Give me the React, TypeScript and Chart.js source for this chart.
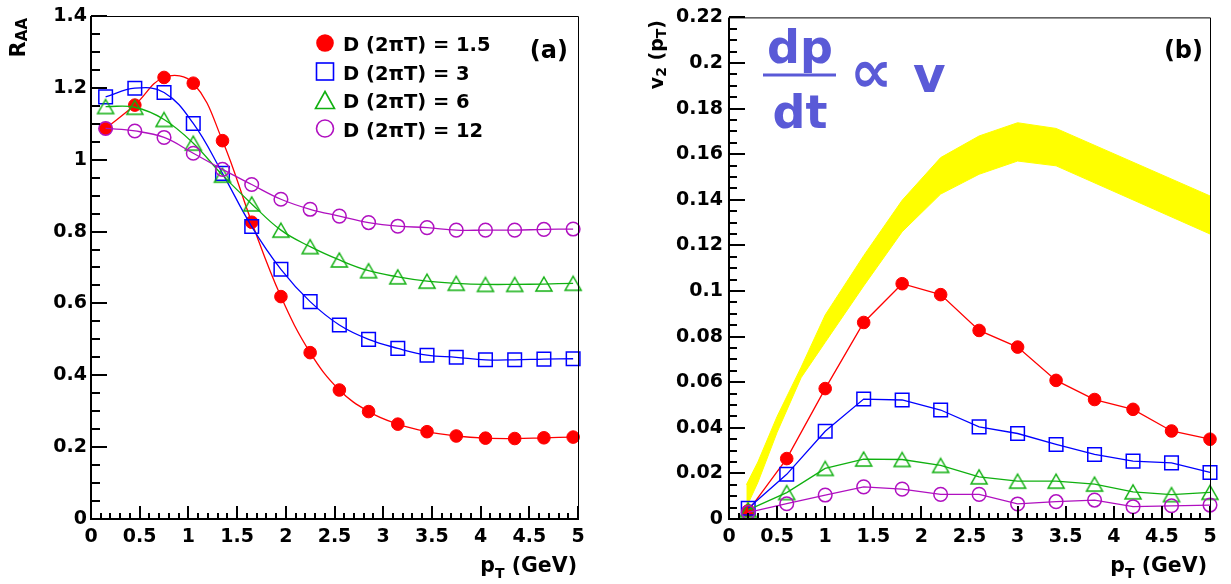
import React, { useEffect, useRef } from 'react';
import { Chart, registerables } from 'chart.js';

Chart.register(...registerables);

const FONT = '"DejaVu Sans", "Liberation Sans", sans-serif';

// ---------- Panel (a): R_AA ----------
const ptA = [0.15, 0.45, 0.75, 1.05, 1.35, 1.65, 1.95, 2.25, 2.55, 2.85, 3.15, 3.45, 3.75, 4.05, 4.35, 4.65, 4.95];
const raaD15 = [1.087, 1.152, 1.229, 1.213, 1.053, 0.826, 0.619, 0.463, 0.359, 0.299, 0.264, 0.243, 0.231, 0.225, 0.224, 0.226, 0.228];
const raaD3 = [1.175, 1.199, 1.187, 1.101, 0.962, 0.814, 0.695, 0.605, 0.54, 0.5, 0.475, 0.456, 0.45, 0.443, 0.443, 0.445, 0.446];
const raaD6 = [1.148, 1.146, 1.112, 1.046, 0.957, 0.877, 0.804, 0.758, 0.721, 0.691, 0.674, 0.662, 0.656, 0.653, 0.653, 0.654, 0.656];
const raaD12 = [1.087, 1.08, 1.062, 1.018, 0.973, 0.931, 0.89, 0.862, 0.843, 0.825, 0.815, 0.811, 0.804, 0.804, 0.804, 0.806, 0.807];

// ---------- Panel (b): v2 ----------
const ptB = [0.2, 0.6, 1.0, 1.4, 1.8, 2.2, 2.6, 3.0, 3.4, 3.8, 4.2, 4.6, 5.0];
const v2D15 = [0.0036, 0.0265, 0.0572, 0.0862, 0.1032, 0.0984, 0.0827, 0.0754, 0.0608, 0.0524, 0.0481, 0.0386, 0.035];
const v2D3 = [0.0047, 0.0196, 0.0385, 0.0526, 0.0522, 0.0478, 0.0404, 0.0375, 0.0327, 0.0283, 0.0254, 0.0246, 0.0204];
const v2D6 = [0.004, 0.0116, 0.0222, 0.0263, 0.0261, 0.0235, 0.0185, 0.0166, 0.0166, 0.0153, 0.0119, 0.0107, 0.0117];
const v2D12 = [0.0029, 0.0067, 0.0105, 0.0141, 0.0131, 0.0108, 0.0108, 0.0066, 0.0076, 0.0083, 0.0054, 0.0058, 0.0061];

// yellow band (dp/dt ∝ v)
const bandX = [0.18, 0.3, 0.5, 0.75, 1.0, 1.4, 1.8, 2.2, 2.6, 3.0, 3.4, 5.0];
const bandUpper = [0.015, 0.025, 0.045, 0.0666, 0.0895, 0.1155, 0.1398, 0.1585, 0.168, 0.1738, 0.1713, 0.1417];
const bandLower = [0.005, 0.016, 0.038, 0.062, 0.0775, 0.1022, 0.126, 0.1425, 0.1512, 0.157, 0.1549, 0.125];

const legendLabels = ['D (2\u03C0T) = 1.5', 'D (2\u03C0T) = 3', 'D (2\u03C0T) = 6', 'D (2\u03C0T) = 12'];

const RED = '#ff0000';
const BLUE = '#0000ff';
const GREEN = '#10b010';
const MAGENTA = '#b010c0';
const YELLOW = '#ffff00';
const FORMULA = 'rgb(90,90,215)';

const pts = (xs: number[], ys: number[]) => xs.map((x, i) => ({ x, y: ys[i] }));

function makeTriangle(w: number, h: number, color: string, lw: number) {
  const c = document.createElement('canvas');
  c.width = Math.ceil(w + lw * 2) + 1;
  c.height = Math.ceil(h + lw * 2) + 1;
  const ctx = c.getContext('2d')!;
  const cx = c.width / 2;
  const cy = c.height / 2;
  ctx.strokeStyle = color;
  ctx.lineWidth = lw;
  ctx.lineJoin = 'miter';
  ctx.beginPath();
  ctx.moveTo(cx, cy - h / 2);
  ctx.lineTo(cx + w / 2, cy + h / 2);
  ctx.lineTo(cx - w / 2, cy + h / 2);
  ctx.closePath();
  ctx.stroke();
  return c;
}

type Seg = { text: string; size: number; dy?: number };

function drawRich(
  ctx: CanvasRenderingContext2D,
  segs: Seg[],
  x: number,
  y: number,
  align: 'left' | 'right' | 'center',
  rot = 0,
  color = '#000'
) {
  ctx.save();
  ctx.translate(x, y);
  if (rot) ctx.rotate(rot);
  ctx.fillStyle = color;
  ctx.textBaseline = 'alphabetic';
  ctx.textAlign = 'left';
  const widths = segs.map((s) => {
    ctx.font = `bold ${s.size}px ${FONT}`;
    return ctx.measureText(s.text).width;
  });
  const total = widths.reduce((a, b) => a + b, 0);
  let cx = align === 'right' ? -total : align === 'center' ? -total / 2 : 0;
  segs.forEach((s, i) => {
    ctx.font = `bold ${s.size}px ${FONT}`;
    ctx.fillText(s.text, cx, s.dy || 0);
    cx += widths[i];
  });
  ctx.restore();
}

type AxisDeco = {
  xMajor: number;
  xMinor: number;
  yMajor: number;
  yMinor: number;
  xMajorLen: number;
  xMinorLen: number;
  yMajorLen: number;
  yMinorLen: number;
};

function makeDecoPlugin(deco: AxisDeco, extra: (ctx: CanvasRenderingContext2D, chart: any) => void) {
  return {
    id: 'deco',
    afterDraw(chart: any) {
      const ctx: CanvasRenderingContext2D = chart.ctx;
      const a = chart.chartArea;
      const xs = chart.scales.x;
      const ys = chart.scales.y;
      ctx.save();
      ctx.strokeStyle = '#000';
      // thin top/right frame
      ctx.lineWidth = 1;
      ctx.beginPath();
      ctx.moveTo(a.left, a.top + 0.5);
      ctx.lineTo(a.right + 0.5, a.top + 0.5);
      ctx.lineTo(a.right + 0.5, a.bottom);
      ctx.stroke();
      // thick left/bottom axes
      ctx.lineWidth = 2;
      ctx.beginPath();
      ctx.moveTo(a.left, a.top);
      ctx.lineTo(a.left, a.bottom);
      ctx.lineTo(a.right + 1, a.bottom);
      ctx.stroke();
      // y ticks
      const ny = Math.round((ys.max - ys.min) / deco.yMinor);
      const ry = Math.round(deco.yMajor / deco.yMinor);
      for (let i = 0; i <= ny; i++) {
        const v = ys.min + i * deco.yMinor;
        const py = Math.round(ys.getPixelForValue(v));
        const len = i % ry === 0 ? deco.yMajorLen : deco.yMinorLen;
        ctx.beginPath();
        ctx.moveTo(a.left, py);
        ctx.lineTo(a.left + len, py);
        ctx.stroke();
      }
      // x ticks
      const nx = Math.round((xs.max - xs.min) / deco.xMinor);
      const rx = Math.round(deco.xMajor / deco.xMinor);
      for (let i = 0; i <= nx; i++) {
        const v = xs.min + i * deco.xMinor;
        const px = Math.round(xs.getPixelForValue(v));
        const len = i % rx === 0 ? deco.xMajorLen : deco.xMinorLen;
        ctx.beginPath();
        ctx.moveTo(px, a.bottom);
        ctx.lineTo(px, a.bottom - len);
        ctx.stroke();
      }
      ctx.restore();
      extra(ctx, chart);
    },
  };
}

const fmt = (v: any) => String(Number(Number(v).toFixed(3)));

function baseOptions(yMin: number, yMax: number, yStep: number, yWidth: number, padRight: number) {
  return {
    responsive: false,
    animation: false as const,
    events: [] as any[],
    devicePixelRatio: 1,
    layout: { padding: { left: 0, right: padRight, top: 16, bottom: 0 } },
    plugins: { legend: { display: false }, tooltip: { enabled: false } },
    scales: {
      x: {
        type: 'linear' as const,
        min: 0,
        max: 5,
        border: { display: false },
        grid: { display: false, drawTicks: false },
        ticks: {
          stepSize: 0.5,
          autoSkip: false,
          maxRotation: 0,
          padding: 7,
          color: '#000',
          font: { family: FONT, weight: 'bold' as const, size: 19 },
          callback: fmt,
        },
        afterFit: (s: any) => {
          s.height = 65;
        },
      },
      y: {
        type: 'linear' as const,
        min: yMin,
        max: yMax,
        border: { display: false },
        grid: { display: false, drawTicks: false },
        ticks: {
          stepSize: yStep,
          autoSkip: false,
          padding: 4,
          color: '#000',
          font: { family: FONT, weight: 'bold' as const, size: 19 },
          callback: fmt,
        },
        afterFit: (s: any) => {
          s.width = yWidth;
        },
      },
    },
  };
}

export default function App() {
  const leftRef = useRef<HTMLCanvasElement>(null);
  const rightRef = useRef<HTMLCanvasElement>(null);

  useEffect(() => {
    const triA = makeTriangle(16, 14, GREEN, 1.5);
    const triB = makeTriangle(16, 14, GREEN, 1.5);

    // ----- left chart -----
    const leftExtra = (ctx: CanvasRenderingContext2D) => {
      drawRich(ctx, [{ text: 'R', size: 21 }, { text: 'AA', size: 15, dy: 2 }], 25, 18, 'right', -Math.PI / 2);
      drawRich(ctx, [{ text: 'p', size: 20.5 }, { text: 'T', size: 14, dy: 6 }, { text: ' (GeV)', size: 20.5 }], 577, 572, 'right');
      drawRich(ctx, [{ text: '(a)', size: 24 }], 568, 58, 'right');
      // legend
      const lx = 325;
      const rows = [43, 71.5, 100, 128.5];
      ctx.save();
      ctx.fillStyle = RED;
      ctx.beginPath();
      ctx.arc(lx, rows[0], 8.8, 0, Math.PI * 2);
      ctx.fill();
      ctx.strokeStyle = BLUE;
      ctx.lineWidth = 1.6;
      ctx.strokeRect(lx - 8.5, rows[1] - 8.5, 17, 17);
      ctx.strokeStyle = GREEN;
      ctx.beginPath();
      ctx.moveTo(lx, rows[2] - 8.5);
      ctx.lineTo(lx + 9.5, rows[2] + 8.5);
      ctx.lineTo(lx - 9.5, rows[2] + 8.5);
      ctx.closePath();
      ctx.stroke();
      ctx.strokeStyle = MAGENTA;
      ctx.beginPath();
      ctx.arc(lx, rows[3], 8.5, 0, Math.PI * 2);
      ctx.stroke();
      ctx.restore();
      legendLabels.forEach((t, i) => drawRich(ctx, [{ text: t, size: 19.5 }], 343, rows[i] + 8, 'left'));
    };

    const leftOpts: any = baseOptions(0, 1.4, 0.2, 91, 37);
    const common = { clip: false, tension: 0.4, borderWidth: 1.3 };
    const leftChart = new Chart(leftRef.current!, {
      type: 'line',
      data: {
        datasets: [
          {
            ...common,
            data: pts(ptA, raaD15),
            borderColor: RED,
            backgroundColor: RED,
            pointBackgroundColor: RED,
            pointBorderColor: RED,
            pointStyle: 'circle',
            pointRadius: 6.3,
            pointBorderWidth: 1,
            order: 4,
          },
          {
            ...common,
            data: pts(ptA, raaD3),
            borderColor: BLUE,
            pointBorderColor: BLUE,
            pointBackgroundColor: 'rgba(0,0,0,0)',
            pointStyle: 'rect',
            pointRadius: 9.6,
            pointBorderWidth: 1.5,
            order: 3,
          },
          {
            ...common,
            data: pts(ptA, raaD6),
            borderColor: GREEN,
            pointStyle: triA as any,
            pointRadius: 8,
            order: 2,
          },
          {
            ...common,
            data: pts(ptA, raaD12),
            borderColor: MAGENTA,
            pointBorderColor: MAGENTA,
            pointBackgroundColor: 'rgba(0,0,0,0)',
            pointStyle: 'circle',
            pointRadius: 6.8,
            pointBorderWidth: 1.5,
            order: 1,
          },
        ],
      },
      options: leftOpts,
      plugins: [
        makeDecoPlugin(
          { xMajor: 0.5, xMinor: 0.1, yMajor: 0.2, yMinor: 0.05, xMajorLen: 13, xMinorLen: 6, yMajorLen: 16, yMinorLen: 9 },
          leftExtra
        ),
      ],
    });

    // ----- right chart -----
    const rightExtra = (ctx: CanvasRenderingContext2D) => {
      drawRich(
        ctx,
        [
          { text: 'v', size: 19 },
          { text: '2', size: 14, dy: 3 },
          { text: ' (p', size: 19 },
          { text: 'T', size: 14, dy: 3 },
          { text: ')', size: 19 },
        ],
        48,
        20,
        'right',
        -Math.PI / 2
      );
      drawRich(ctx, [{ text: 'p', size: 20.5 }, { text: 'T', size: 14, dy: 6 }, { text: ' (GeV)', size: 20.5 }], 592, 572, 'right');
      drawRich(ctx, [{ text: '(b)', size: 24 }], 588, 58, 'right');
      // formula dp/dt ∝ v
      drawRich(ctx, [{ text: 'dp', size: 46 }], 185, 63, 'center', 0, FORMULA);
      ctx.save();
      ctx.fillStyle = FORMULA;
      ctx.fillRect(148, 73.5, 73, 3);
      ctx.restore();
      drawRich(ctx, [{ text: 'dt', size: 46 }], 185, 128, 'center', 0, FORMULA);
      drawRich(ctx, [{ text: '\u221D', size: 60 }], 256, 92, 'center', 0, FORMULA);
      drawRich(ctx, [{ text: 'v', size: 50 }], 298, 92, 'left', 0, FORMULA);
    };

    const rightOpts: any = baseOptions(0, 0.22, 0.02, 114, 21);
    rightOpts.scales.y.ticks.padding = 6;
    const lin = { clip: false, tension: 0, borderWidth: 1.3 };
    const rightChart = new Chart(rightRef.current!, {
      type: 'line',
      data: {
        datasets: [
          {
            ...lin,
            data: pts(ptB, v2D15),
            borderColor: RED,
            backgroundColor: RED,
            pointBackgroundColor: RED,
            pointBorderColor: RED,
            pointStyle: 'circle',
            pointRadius: 6.3,
            pointBorderWidth: 1,
            order: 4,
          },
          {
            ...lin,
            data: pts(ptB, v2D3),
            borderColor: BLUE,
            pointBorderColor: BLUE,
            pointBackgroundColor: 'rgba(0,0,0,0)',
            pointStyle: 'rect',
            pointRadius: 9.6,
            pointBorderWidth: 1.5,
            order: 3,
          },
          {
            ...lin,
            data: pts(ptB, v2D6),
            borderColor: GREEN,
            pointStyle: triB as any,
            pointRadius: 8,
            order: 2,
          },
          {
            ...lin,
            data: pts(ptB, v2D12),
            borderColor: MAGENTA,
            pointBorderColor: MAGENTA,
            pointBackgroundColor: 'rgba(0,0,0,0)',
            pointStyle: 'circle',
            pointRadius: 6.8,
            pointBorderWidth: 1.5,
            order: 1,
          },
          {
            data: pts(bandX, bandUpper),
            borderColor: YELLOW,
            borderWidth: 1,
            backgroundColor: YELLOW,
            pointRadius: 0,
            tension: 0,
            fill: '+1',
            order: 10,
          },
          {
            data: pts(bandX, bandLower),
            borderColor: YELLOW,
            borderWidth: 1,
            pointRadius: 0,
            tension: 0,
            fill: false,
            order: 11,
          },
        ],
      },
      options: rightOpts,
      plugins: [
        makeDecoPlugin(
          { xMajor: 0.5, xMinor: 0.1, yMajor: 0.02, yMinor: 0.005, xMajorLen: 13, xMinorLen: 6, yMajorLen: 16, yMinorLen: 8 },
          rightExtra
        ),
      ],
    });

    return () => {
      leftChart.destroy();
      rightChart.destroy();
    };
  }, []);

  return (
    <div style={{ position: 'fixed', left: 0, top: 0, width: 1231, height: 584, background: '#fff', overflow: 'hidden' }}>
      <canvas ref={leftRef} width={615} height={584} style={{ position: 'absolute', left: 0, top: 0, width: 615, height: 584 }} />
      <canvas ref={rightRef} width={616} height={584} style={{ position: 'absolute', left: 615, top: 0, width: 616, height: 584 }} />
    </div>
  );
}
